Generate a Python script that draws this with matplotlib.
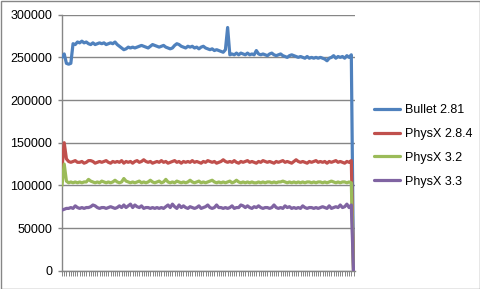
import numpy as np
import matplotlib.pyplot as plt
from matplotlib.patches import Rectangle

plt.rcParams['font.family'] = ['Liberation Sans', 'DejaVu Sans']

series_names = ['Bullet 2.81', 'PhysX 2.8.4', 'PhysX 3.2', 'PhysX 3.3']
series_colors = ['#4F81BD', '#C0504D', '#9BBB59', '#8064A2']

bullet_281 = [
    250000, 254000, 243000, 242000, 243000, 266000, 265000, 268000, 267000, 269000,
    267000, 268000, 266000, 265000, 267000, 265000, 266000, 267000, 266000, 267000,
    265000, 266000, 267000, 266000, 268000, 265000, 263000, 261000, 259000, 260000,
    262000, 261000, 262000, 261000, 262000, 263000, 264000, 263000, 262000, 261000,
    263000, 265000, 264000, 263000, 262000, 263000, 264000, 262000, 261000, 260000,
    261000, 264000, 266000, 265000, 263000, 262000, 261000, 263000, 262000, 263000,
    261000, 262000, 260000, 262000, 263000, 261000, 260000, 259000, 260000, 258000,
    259000, 258000, 257000, 256000, 259000, 285000, 253000, 254000, 253000, 255000,
    253000, 255000, 254000, 253000, 255000, 253000, 254000, 253000, 258000, 254000,
    253000, 254000, 253000, 252000, 254000, 255000, 253000, 252000, 253000, 254000,
    252000, 251000, 250000, 252000, 253000, 252000, 251000, 250000, 251000, 250000,
    249000, 251000, 249000, 250000, 249000, 250000, 249000, 250000, 249000, 248000,
    246000, 249000, 250000, 252000, 249000, 251000, 250000, 251000, 249000, 252000,
    250000, 253000, 0,
]

physx_284 = [
    120000, 150000, 131000, 128000, 127000, 128000, 129000, 127000, 127000, 128000,
    126000, 127000, 129000, 129000, 128000, 126000, 127000, 128000, 127000, 128000,
    129000, 127000, 126000, 128000, 127000, 128000, 127000, 129000, 126000, 128000,
    127000, 128000, 126000, 128000, 129000, 127000, 128000, 130000, 128000, 127000,
    128000, 126000, 127000, 128000, 127000, 129000, 127000, 128000, 126000, 127000,
    128000, 129000, 127000, 128000, 126000, 128000, 127000, 128000, 127000, 129000,
    127000, 128000, 127000, 126000, 128000, 127000, 129000, 128000, 127000, 128000,
    126000, 127000, 128000, 130000, 128000, 127000, 128000, 127000, 129000, 127000,
    126000, 128000, 127000, 128000, 129000, 127000, 128000, 127000, 126000, 128000,
    127000, 129000, 128000, 127000, 128000, 127000, 126000, 128000, 127000, 128000,
    129000, 127000, 128000, 127000, 126000, 128000, 130000, 128000, 127000, 128000,
    127000, 126000, 128000, 127000, 128000, 129000, 127000, 128000, 127000, 128000,
    126000, 128000, 127000, 128000, 129000, 127000, 128000, 127000, 126000, 128000,
    127000, 129000, 0,
]

physx_32 = [
    100000, 125000, 105000, 103000, 104000, 103000, 104000, 103000, 104000, 103000,
    104000, 104000, 107000, 105000, 104000, 103000, 104000, 103000, 105000, 104000,
    103000, 104000, 103000, 104000, 106000, 104000, 103000, 104000, 108000, 105000,
    104000, 103000, 104000, 103000, 104000, 105000, 103000, 104000, 103000, 104000,
    106000, 104000, 103000, 104000, 105000, 103000, 104000, 107000, 104000, 103000,
    104000, 103000, 105000, 104000, 103000, 104000, 103000, 104000, 106000, 104000,
    103000, 104000, 105000, 103000, 104000, 103000, 104000, 105000, 106000, 104000,
    103000, 104000, 103000, 104000, 103000, 104000, 105000, 103000, 104000, 106000,
    104000, 103000, 104000, 103000, 104000, 103000, 104000, 103000, 103000, 104000,
    103000, 104000, 103000, 104000, 104000, 103000, 104000, 103000, 104000, 104000,
    105000, 104000, 103000, 104000, 103000, 104000, 103000, 104000, 103000, 104000,
    103000, 104000, 104000, 103000, 104000, 103000, 104000, 104000, 103000, 104000,
    103000, 104000, 105000, 104000, 103000, 104000, 103000, 104000, 104000, 103000,
    104000, 103000, 0,
]

physx_33 = [
    71000, 72000, 73000, 73000, 74000, 73000, 76000, 74000, 73000, 74000,
    73000, 74000, 74000, 75000, 77000, 76000, 74000, 73000, 74000, 74000,
    73000, 74000, 75000, 74000, 73000, 74000, 76000, 74000, 77000, 74000,
    76000, 78000, 74000, 77000, 75000, 74000, 76000, 73000, 74000, 74000,
    73000, 74000, 73000, 74000, 73000, 74000, 73000, 75000, 77000, 74000,
    78000, 75000, 73000, 77000, 74000, 76000, 74000, 73000, 75000, 74000,
    73000, 74000, 76000, 73000, 74000, 75000, 77000, 74000, 73000, 74000,
    77000, 74000, 74000, 73000, 74000, 73000, 74000, 76000, 73000, 74000,
    74000, 77000, 76000, 74000, 76000, 74000, 73000, 75000, 74000, 76000,
    74000, 73000, 74000, 74000, 73000, 74000, 77000, 74000, 73000, 74000,
    73000, 76000, 74000, 75000, 73000, 74000, 73000, 74000, 73000, 76000,
    74000, 73000, 74000, 74000, 73000, 74000, 73000, 74000, 75000, 74000,
    73000, 76000, 73000, 74000, 75000, 74000, 77000, 74000, 75000, 78000,
    74000, 77000, 0,
]

y_ticks = [0, 50000, 100000, 150000, 200000, 250000, 300000]

grey = '#868686'
W, H = 481, 289
fig = plt.figure(figsize=(W / 100, H / 100), dpi=100)
ax = fig.add_axes([62 / W, (H - 270.7) / H, (355.5 - 62) / W, (270.7 - 14.7) / H])

all_series = [bullet_281, physx_284, physx_32, physx_33]
for vals, name, col in zip(all_series, series_names, series_colors):
    ax.plot(np.arange(len(vals)), vals, color=col, lw=2.3, label=name,
            solid_joinstyle='round', solid_capstyle='round', zorder=3)

n = len(bullet_281)
ax.set_xlim(0, n - 1 + 0.9)
ax.set_ylim(0, 300000)
ax.set_yticks(y_ticks)
ax.set_yticklabels([str(v) for v in y_ticks], fontsize=9)
ax.set_xticks(np.arange(n))
ax.set_xticklabels([])
ax.yaxis.grid(True, color=grey, lw=1)
ax.set_axisbelow(True)

for s in ['top', 'right']:
    ax.spines[s].set_visible(False)
for s in ['left', 'bottom']:
    ax.spines[s].set_color(grey)
    ax.spines[s].set_linewidth(1)
ax.tick_params(axis='y', length=3, width=1, color=grey, pad=4)
ax.tick_params(axis='x', length=3.5, width=0.7, color=grey)

leg = fig.legend(loc='upper left', bbox_to_anchor=(374 / W, (H - 104) / H),
                 frameon=False, fontsize=9, handlelength=2.1, handletextpad=0.35,
                 labelspacing=0.95, borderpad=0, borderaxespad=0)

fig.patches.append(Rectangle((0.5 / W, 0.5 / H), (W - 1) / W, (H - 1) / H,
                             transform=fig.transFigure, fill=False,
                             edgecolor=grey, lw=1))

fig.savefig('out.png', dpi=100)
